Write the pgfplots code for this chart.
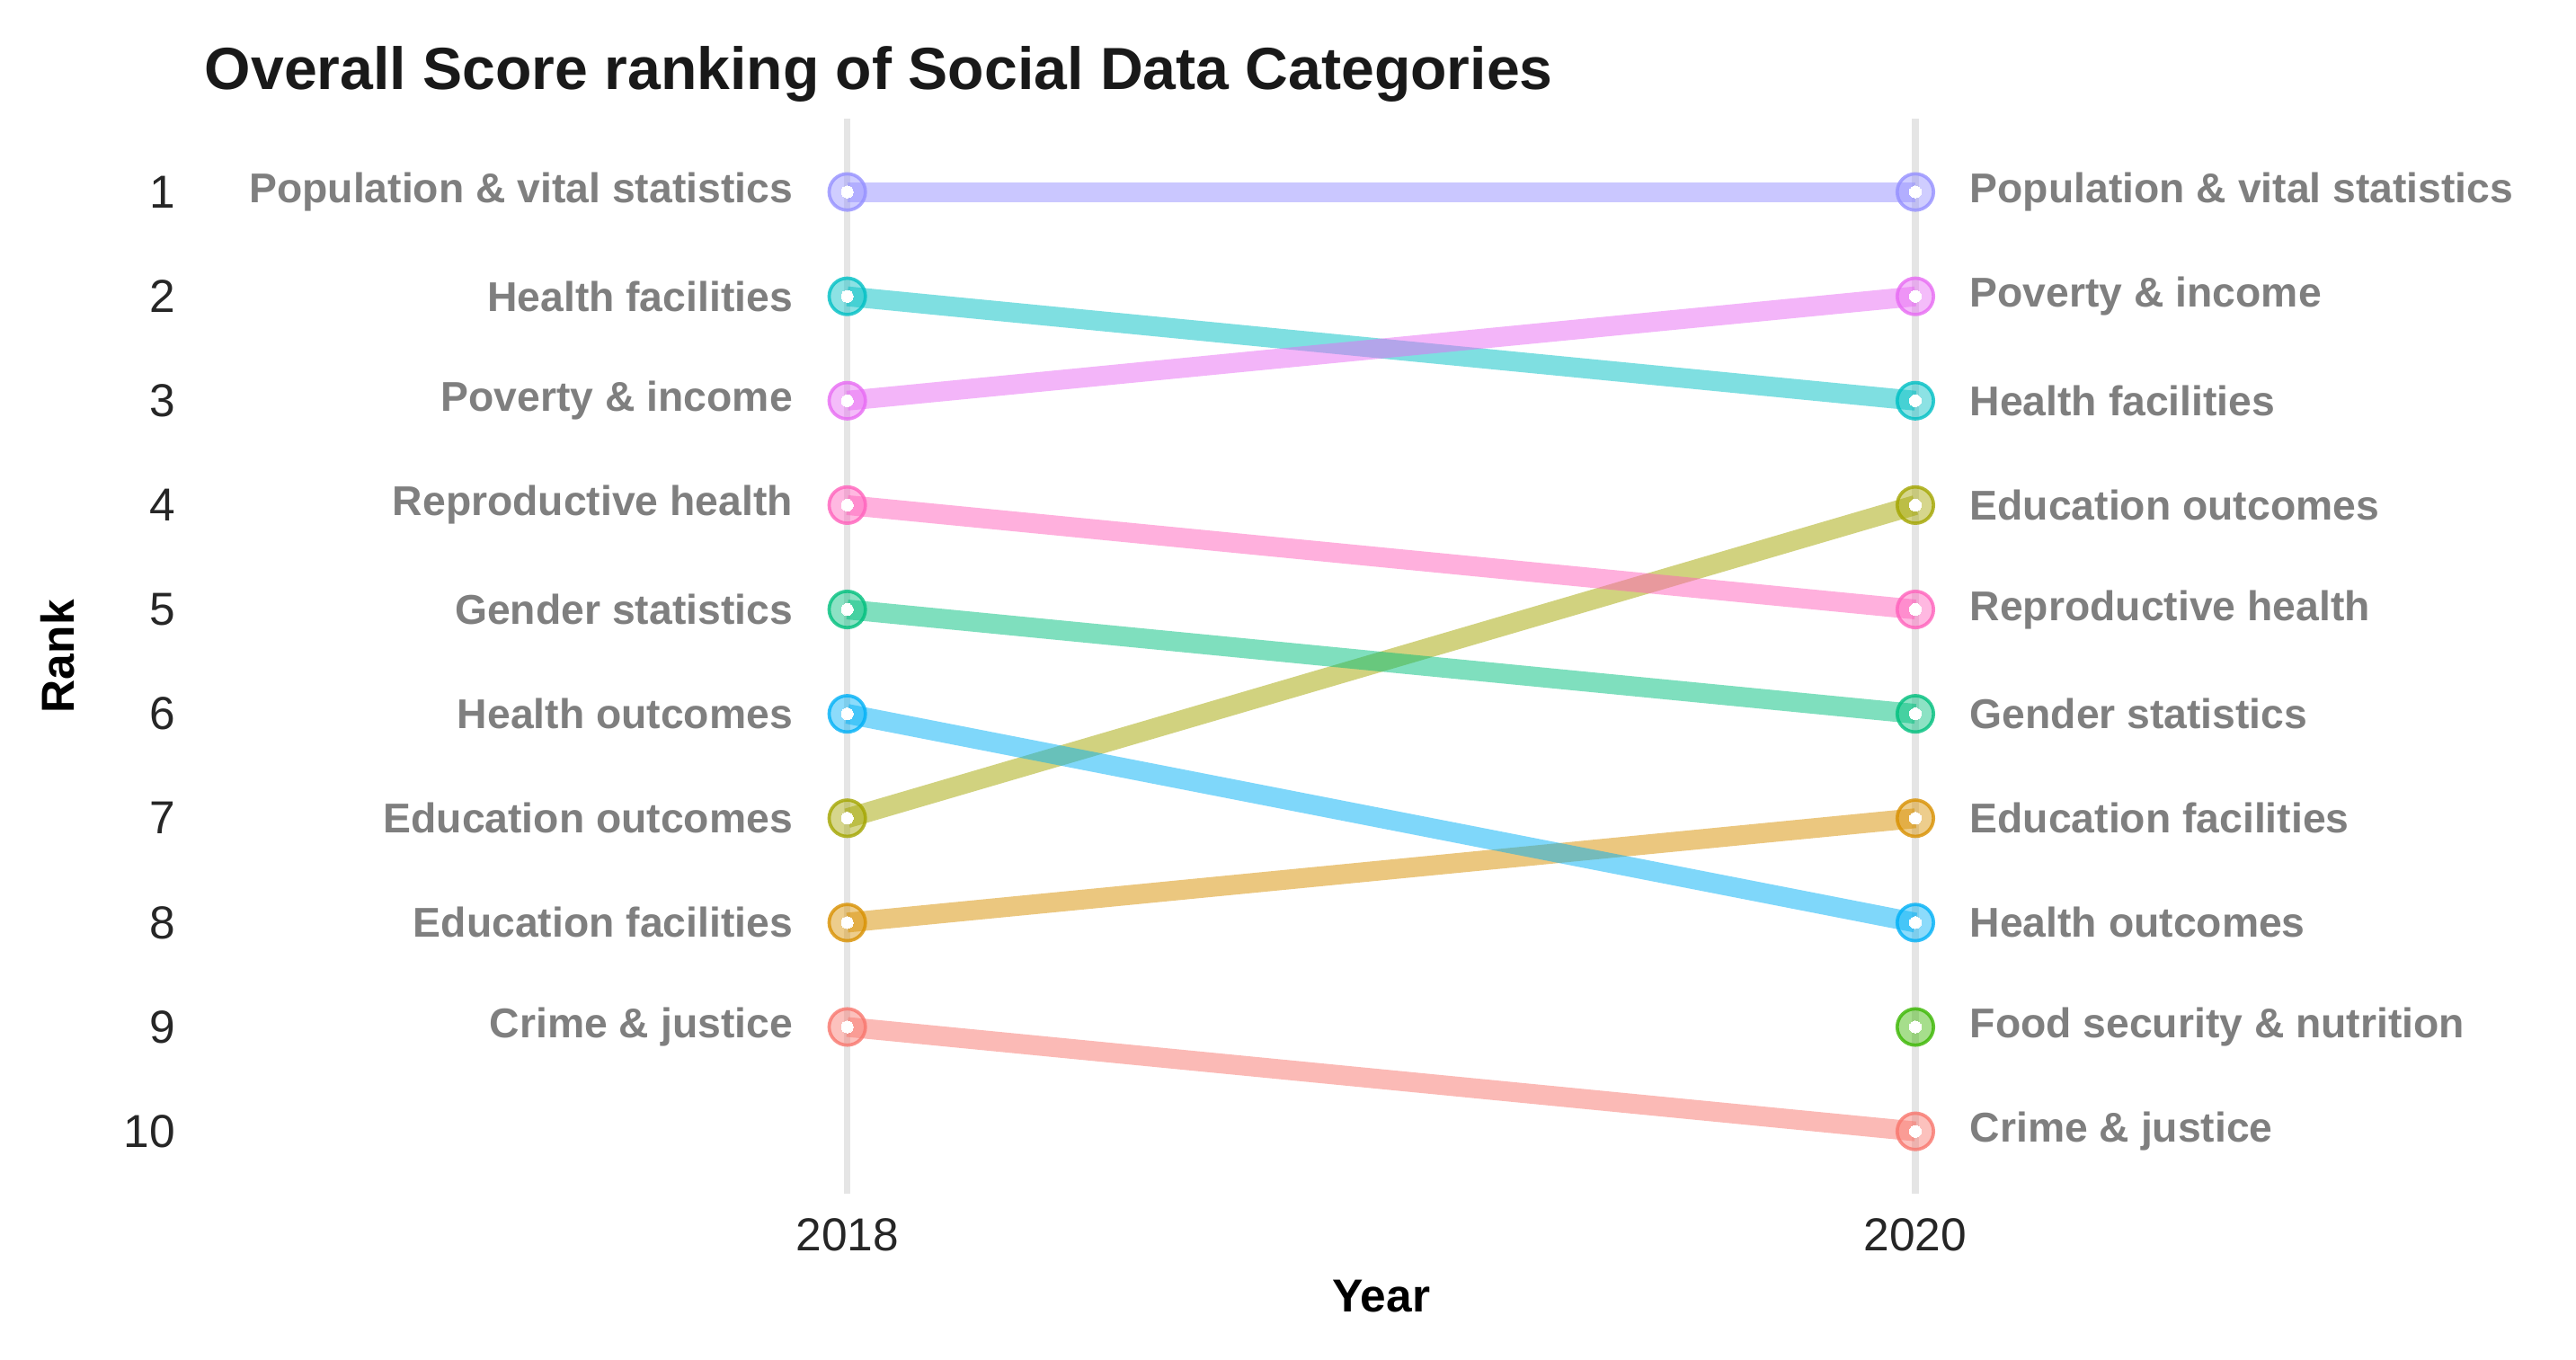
\documentclass[border=0pt]{standalone}
\usepackage{pgfplots}
\pgfplotsset{compat=1.18}
\usepackage{fontspec}
\setmainfont{Liberation Sans}
\definecolor{cCr}{HTML}{F8766D}
\definecolor{cEf}{HTML}{D89000}
\definecolor{cEo}{HTML}{A3A500}
\definecolor{cFo}{HTML}{39B600}
\definecolor{cGe}{HTML}{00BF7D}
\definecolor{cHf}{HTML}{00BFC4}
\definecolor{cHo}{HTML}{00B0F6}
\definecolor{cPo}{HTML}{9590FF}
\definecolor{cPv}{HTML}{E76BF3}
\definecolor{cRe}{HTML}{FF62BC}
\definecolor{lab}{HTML}{7F7F7F}
\newcommand{\series}[3]{%
 \addplot[#1, line width=6pt, opacity=0.5, no marks] coordinates {(2018,#2) (2020,#3)};
 \addplot[only marks, mark=*, mark size=5.5pt, mark options={draw=#1, fill=#1, fill opacity=0.45, draw opacity=0.8, line width=1pt}] coordinates {(2018,#2) (2020,#3)};
 \addplot[only marks, mark=*, mark size=1.8pt, mark options={draw=white, fill=white, line width=0pt}] coordinates {(2018,#2) (2020,#3)};
}
\begin{document}
\begin{tikzpicture}
\begin{axis}[
 scale only axis, width=711.5pt, height=325.5pt,
 xmin=2016.8, xmax=2021.2, ymin=0.3, ymax=10.6, y dir=reverse,
 axis line style={draw=none}, major tick length=0pt,
 xtick={2018,2020}, xticklabels={2018,2020},
 ytick={1,...,10},
 xmajorgrids, grid style={draw=black!10, line width=2pt},
 ticklabel style={font=\fontsize{14}{16}\selectfont, text=black!85},
 yticklabel style={xshift=-6pt},
 xticklabel style={yshift=-4pt},
 /pgf/number format/assume math mode=true,
 /pgf/number format/1000 sep={},
 clip=false,
]
\series{cCr}{9}{10}
\series{cEf}{8}{7}
\series{cEo}{7}{4}
\series{cGe}{5}{6}
\series{cHf}{2}{3}
\series{cHo}{6}{8}
\series{cPo}{1}{1}
\series{cPv}{3}{2}
\series{cRe}{4}{5}
\addplot[only marks, mark=*, mark size=5.5pt, mark options={draw=cFo, fill=cFo, fill opacity=0.45, draw opacity=0.8, line width=1pt}] coordinates {(2020,9)};
\addplot[only marks, mark=*, mark size=1.8pt, mark options={draw=white, fill=white, line width=0pt}] coordinates {(2020,9)};
\begin{scope}[every node/.style={font=\bfseries\fontsize{12.6}{14}\selectfont, text=lab}]
\node[anchor=east, xshift=-13pt] at (axis cs:2018,1) {Population \& vital statistics};
\node[anchor=east, xshift=-13pt] at (axis cs:2018,2) {Health facilities};
\node[anchor=east, xshift=-13pt] at (axis cs:2018,3) {Poverty \& income};
\node[anchor=east, xshift=-13pt] at (axis cs:2018,4) {Reproductive health};
\node[anchor=east, xshift=-13pt] at (axis cs:2018,5) {Gender statistics};
\node[anchor=east, xshift=-13pt] at (axis cs:2018,6) {Health outcomes};
\node[anchor=east, xshift=-13pt] at (axis cs:2018,7) {Education outcomes};
\node[anchor=east, xshift=-13pt] at (axis cs:2018,8) {Education facilities};
\node[anchor=east, xshift=-13pt] at (axis cs:2018,9) {Crime \& justice};
\node[anchor=west, xshift=13pt] at (axis cs:2020,1) {Population \& vital statistics};
\node[anchor=west, xshift=13pt] at (axis cs:2020,2) {Poverty \& income};
\node[anchor=west, xshift=13pt] at (axis cs:2020,3) {Health facilities};
\node[anchor=west, xshift=13pt] at (axis cs:2020,4) {Education outcomes};
\node[anchor=west, xshift=13pt] at (axis cs:2020,5) {Reproductive health};
\node[anchor=west, xshift=13pt] at (axis cs:2020,6) {Gender statistics};
\node[anchor=west, xshift=13pt] at (axis cs:2020,7) {Education facilities};
\node[anchor=west, xshift=13pt] at (axis cs:2020,8) {Health outcomes};
\node[anchor=west, xshift=13pt] at (axis cs:2020,9) {Food security \& nutrition};
\node[anchor=west, xshift=13pt] at (axis cs:2020,10) {Crime \& justice};
\end{scope}
\end{axis}
\node[anchor=west, font=\bfseries\fontsize{18}{21}\selectfont, text=black!90] at ([shift={(-4pt,13.5pt)}]current axis.north west) {Overall Score ranking of Social Data Categories};
\node[font=\bfseries\fontsize{14}{16}\selectfont, rotate=90] at ([xshift=-45pt]current axis.west) {Rank};
\node[font=\bfseries\fontsize{14}{16}\selectfont] at ([yshift=-31pt]current axis.south) {Year};
\pgfresetboundingbox
\path ([shift={(-62.5pt,-50pt)}]current axis.south west) rectangle ([shift={(6pt,36pt)}]current axis.north east);
\end{tikzpicture}
\end{document}
